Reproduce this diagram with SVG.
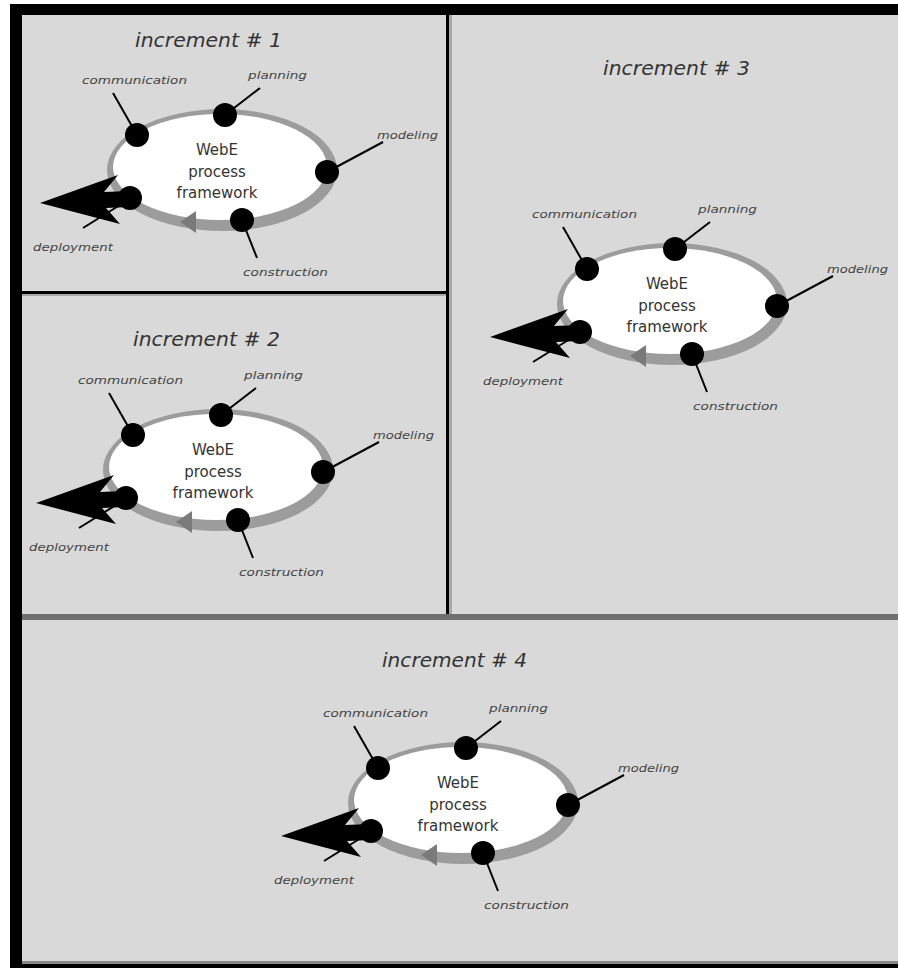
<svg xmlns="http://www.w3.org/2000/svg" width="898" height="968" viewBox="0 0 898 968">
<style>
.bg{fill:#d9d9d9}
.ringo{fill:#9c9c9c}
.ringi{fill:#ffffff}
.flow{fill:#7a7a7a}
.dot{fill:#000}
.lead{stroke:#000;stroke-width:2;fill:none}
.arrow{fill:#000}
.lbl{font-family:"DejaVu Sans",sans-serif;font-style:italic;font-size:11px;fill:#444}
.ctr{font-family:"DejaVu Sans",sans-serif;font-size:15px;fill:#333;text-anchor:middle}
.ttl{font-family:"DejaVu Sans",sans-serif;font-style:italic;font-size:20px;fill:#333}
</style>
<rect x="0" y="0" width="898" height="968" fill="#ffffff"/>
<rect x="10" y="4" width="888" height="964" fill="#000"/>
<rect class="bg" x="22" y="15" width="876" height="946"/>
<rect x="22" y="961" width="876" height="3" fill="#888"/>
<g id="frame-lines">
<rect x="449" y="15" width="3" height="600" fill="#a8a8a8"/>
<rect x="446" y="15" width="3" height="602" fill="#000"/>
<rect x="22" y="294" width="424" height="2" fill="#a8a8a8"/>
<rect x="22" y="291" width="424" height="3" fill="#000"/>
<rect x="22" y="614" width="876" height="6" fill="#6f6f6f"/>
</g>
<g id="titles">
<text class="ttl" x="135" y="47" textLength="147" lengthAdjust="spacingAndGlyphs">increment # 1</text>
<text class="ttl" x="133" y="346" textLength="147" lengthAdjust="spacingAndGlyphs">increment # 2</text>
<text class="ttl" x="603" y="75" textLength="147" lengthAdjust="spacingAndGlyphs">increment # 3</text>
<text class="ttl" x="382" y="667" textLength="145" lengthAdjust="spacingAndGlyphs">increment # 4</text>
</g>
<g id="increment-1">
<g id="connectors-1">
<line class="lead" x1="113" y1="93" x2="137" y2="135"/>
<line class="lead" x1="225" y1="115" x2="260" y2="88"/>
<line class="lead" x1="327" y1="172" x2="383" y2="142"/>
<line class="lead" x1="242" y1="220" x2="257" y2="258"/>
<line class="lead" x1="83" y1="228" x2="128" y2="200"/>
</g>
<ellipse class="ringo" cx="222" cy="170" rx="115" ry="61"/>
<ellipse class="ringi" cx="220" cy="167" rx="107" ry="53"/>
<polygon class="flow" points="180,222 196,211 196,233"/>
<polygon class="arrow" points="40,203 118,175 104,192 130,191 130,207 106,208 120,224"/>
<circle class="dot" cx="137" cy="135" r="12"/>
<circle class="dot" cx="225" cy="115" r="12"/>
<circle class="dot" cx="327" cy="172" r="12"/>
<circle class="dot" cx="242" cy="220" r="12"/>
<circle class="dot" cx="130" cy="198" r="12"/>
<text class="ctr" x="217" y="155">WebE</text>
<text class="ctr" x="217" y="177">process</text>
<text class="ctr" x="217" y="198">framework</text>
<text class="lbl" x="82" y="84" textLength="105" lengthAdjust="spacingAndGlyphs">communication</text>
<text class="lbl" x="248" y="79" textLength="59" lengthAdjust="spacingAndGlyphs">planning</text>
<text class="lbl" x="377" y="139" textLength="61" lengthAdjust="spacingAndGlyphs">modeling</text>
<text class="lbl" x="243" y="276" textLength="85" lengthAdjust="spacingAndGlyphs">construction</text>
<text class="lbl" x="33" y="251" textLength="80" lengthAdjust="spacingAndGlyphs">deployment</text>
</g>
<g id="increment-2" transform="translate(-4,300)">
<g id="connectors-2">
<line class="lead" x1="113" y1="93" x2="137" y2="135"/>
<line class="lead" x1="225" y1="115" x2="260" y2="88"/>
<line class="lead" x1="327" y1="172" x2="383" y2="142"/>
<line class="lead" x1="242" y1="220" x2="257" y2="258"/>
<line class="lead" x1="83" y1="228" x2="128" y2="200"/>
</g>
<ellipse class="ringo" cx="222" cy="170" rx="115" ry="61"/>
<ellipse class="ringi" cx="220" cy="167" rx="107" ry="53"/>
<polygon class="flow" points="180,222 196,211 196,233"/>
<polygon class="arrow" points="40,203 118,175 104,192 130,191 130,207 106,208 120,224"/>
<circle class="dot" cx="137" cy="135" r="12"/>
<circle class="dot" cx="225" cy="115" r="12"/>
<circle class="dot" cx="327" cy="172" r="12"/>
<circle class="dot" cx="242" cy="220" r="12"/>
<circle class="dot" cx="130" cy="198" r="12"/>
<text class="ctr" x="217" y="155">WebE</text>
<text class="ctr" x="217" y="177">process</text>
<text class="ctr" x="217" y="198">framework</text>
<text class="lbl" x="82" y="84" textLength="105" lengthAdjust="spacingAndGlyphs">communication</text>
<text class="lbl" x="248" y="79" textLength="59" lengthAdjust="spacingAndGlyphs">planning</text>
<text class="lbl" x="377" y="139" textLength="61" lengthAdjust="spacingAndGlyphs">modeling</text>
<text class="lbl" x="243" y="276" textLength="85" lengthAdjust="spacingAndGlyphs">construction</text>
<text class="lbl" x="33" y="251" textLength="80" lengthAdjust="spacingAndGlyphs">deployment</text>
</g>
<g id="increment-3" transform="translate(450,134)">
<g id="connectors-3">
<line class="lead" x1="113" y1="93" x2="137" y2="135"/>
<line class="lead" x1="225" y1="115" x2="260" y2="88"/>
<line class="lead" x1="327" y1="172" x2="383" y2="142"/>
<line class="lead" x1="242" y1="220" x2="257" y2="258"/>
<line class="lead" x1="83" y1="228" x2="128" y2="200"/>
</g>
<ellipse class="ringo" cx="222" cy="170" rx="115" ry="61"/>
<ellipse class="ringi" cx="220" cy="167" rx="107" ry="53"/>
<polygon class="flow" points="180,222 196,211 196,233"/>
<polygon class="arrow" points="40,203 118,175 104,192 130,191 130,207 106,208 120,224"/>
<circle class="dot" cx="137" cy="135" r="12"/>
<circle class="dot" cx="225" cy="115" r="12"/>
<circle class="dot" cx="327" cy="172" r="12"/>
<circle class="dot" cx="242" cy="220" r="12"/>
<circle class="dot" cx="130" cy="198" r="12"/>
<text class="ctr" x="217" y="155">WebE</text>
<text class="ctr" x="217" y="177">process</text>
<text class="ctr" x="217" y="198">framework</text>
<text class="lbl" x="82" y="84" textLength="105" lengthAdjust="spacingAndGlyphs">communication</text>
<text class="lbl" x="248" y="79" textLength="59" lengthAdjust="spacingAndGlyphs">planning</text>
<text class="lbl" x="377" y="139" textLength="61" lengthAdjust="spacingAndGlyphs">modeling</text>
<text class="lbl" x="243" y="276" textLength="85" lengthAdjust="spacingAndGlyphs">construction</text>
<text class="lbl" x="33" y="251" textLength="80" lengthAdjust="spacingAndGlyphs">deployment</text>
</g>
<g id="increment-4" transform="translate(241,633)">
<g id="connectors-4">
<line class="lead" x1="113" y1="93" x2="137" y2="135"/>
<line class="lead" x1="225" y1="115" x2="260" y2="88"/>
<line class="lead" x1="327" y1="172" x2="383" y2="142"/>
<line class="lead" x1="242" y1="220" x2="257" y2="258"/>
<line class="lead" x1="83" y1="228" x2="128" y2="200"/>
</g>
<ellipse class="ringo" cx="222" cy="170" rx="115" ry="61"/>
<ellipse class="ringi" cx="220" cy="167" rx="107" ry="53"/>
<polygon class="flow" points="180,222 196,211 196,233"/>
<polygon class="arrow" points="40,203 118,175 104,192 130,191 130,207 106,208 120,224"/>
<circle class="dot" cx="137" cy="135" r="12"/>
<circle class="dot" cx="225" cy="115" r="12"/>
<circle class="dot" cx="327" cy="172" r="12"/>
<circle class="dot" cx="242" cy="220" r="12"/>
<circle class="dot" cx="130" cy="198" r="12"/>
<text class="ctr" x="217" y="155">WebE</text>
<text class="ctr" x="217" y="177">process</text>
<text class="ctr" x="217" y="198">framework</text>
<text class="lbl" x="82" y="84" textLength="105" lengthAdjust="spacingAndGlyphs">communication</text>
<text class="lbl" x="248" y="79" textLength="59" lengthAdjust="spacingAndGlyphs">planning</text>
<text class="lbl" x="377" y="139" textLength="61" lengthAdjust="spacingAndGlyphs">modeling</text>
<text class="lbl" x="243" y="276" textLength="85" lengthAdjust="spacingAndGlyphs">construction</text>
<text class="lbl" x="33" y="251" textLength="80" lengthAdjust="spacingAndGlyphs">deployment</text>
</g>
</svg>
